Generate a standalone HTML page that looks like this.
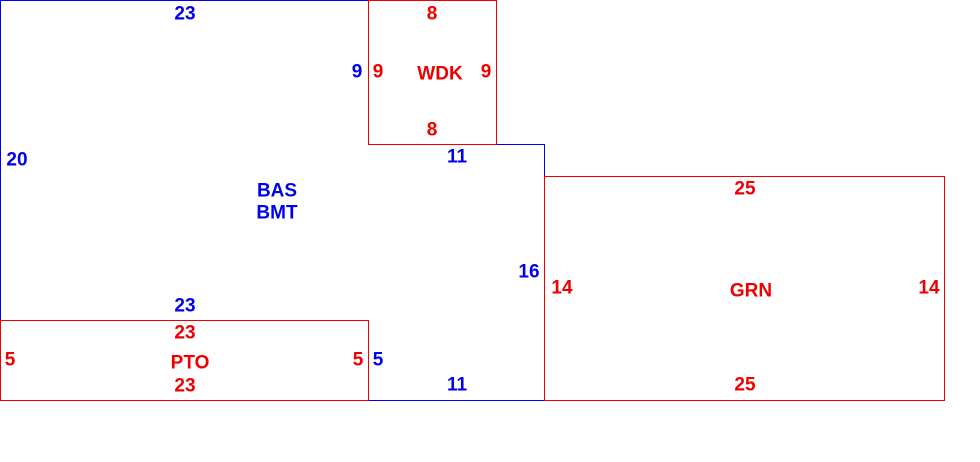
<!DOCTYPE html>
<html><head><meta charset="utf-8"><style>
html,body{margin:0;padding:0;background:#fff;width:980px;height:462px;overflow:hidden}
text{font-family:"Liberation Sans",sans-serif;font-weight:bold;font-size:19px;text-anchor:middle;dominant-baseline:central}
.b{fill:#0000ee}.r{fill:#ee0000}
</style></head><body>
<svg width="980" height="462" xmlns="http://www.w3.org/2000/svg">
<g fill="none" stroke-width="1">
<polygon points="0.5,0.5 368.5,0.5 368.5,144.5 544.5,144.5 544.5,400.5 368.5,400.5 368.5,320.5 0.5,320.5" stroke="#0000ee"/>
<rect x="368.5" y="0.5" width="128" height="144" stroke="#ee0000"/>
<rect x="0.5" y="320.5" width="368" height="80" stroke="#ee0000"/>
<rect x="544.5" y="176.5" width="400" height="224" stroke="#ee0000"/>
</g>
<text class="b" x="185" y="14">23</text>
<text class="b" x="357" y="72">9</text>
<text class="r" x="378" y="72">9</text>
<text class="r" x="440" y="74">WDK</text>
<text class="r" x="486" y="72">9</text>
<text class="r" x="432" y="14">8</text>
<text class="r" x="432" y="130">8</text>
<text class="b" x="457" y="157">11</text>
<text class="b" x="17" y="160">20</text>
<text class="b" x="277" y="191">BAS</text>
<text class="b" x="277" y="213">BMT</text>
<text class="r" x="745" y="189">25</text>
<text class="b" x="529" y="272">16</text>
<text class="r" x="562" y="288">14</text>
<text class="r" x="751" y="291">GRN</text>
<text class="r" x="929" y="288">14</text>
<text class="b" x="185" y="306">23</text>
<text class="r" x="185" y="333">23</text>
<text class="r" x="10" y="360">5</text>
<text class="r" x="190" y="363">PTO</text>
<text class="r" x="358" y="360">5</text>
<text class="b" x="378" y="360">5</text>
<text class="b" x="457" y="385">11</text>
<text class="r" x="185" y="386">23</text>
<text class="r" x="745" y="385">25</text>
</svg>
</body></html>
